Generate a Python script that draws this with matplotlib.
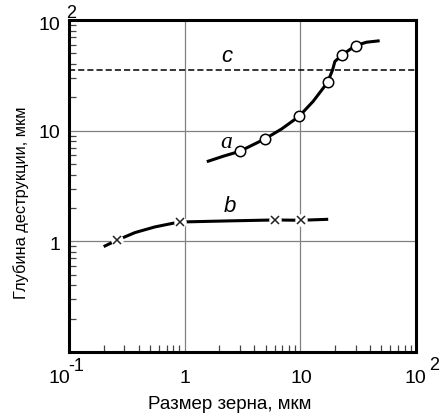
import numpy as np
import matplotlib.pyplot as plt
from matplotlib.ticker import LogLocator, NullFormatter, NullLocator

plt.rcParams['font.family'] = ['Liberation Sans', 'DejaVu Sans']

# curve a: measured points and traced line
a_x = [3.01, 4.94, 9.78, 17.2, 23.0, 30.1]
a_y = [6.52, 8.42, 13.5, 27.3, 48.4, 58.8]
a_line_x = [1.60, 2.16, 3.01, 3.92, 4.94, 6.89, 9.78, 12.9, 17.2, 19.0, 19.9, 23.0, 30.1, 37.4, 47.1]
a_line_y = [5.30, 5.88, 6.52, 7.48, 8.42, 10.36, 13.5, 18.4, 27.3, 35.4, 42.2, 48.4, 58.8, 63.0, 64.7]

# curve b
b_x = [0.258, 0.91, 6.03, 10.1]
b_y = [1.02, 1.50, 1.56, 1.55]
b_line_x = [0.205, 0.258, 0.372, 0.553, 0.91, 1.04, 2.38, 6.03, 10.1, 16.9]
b_line_y = [0.909, 1.02, 1.20, 1.35, 1.50, 1.50, 1.53, 1.56, 1.55, 1.58]

# level c
c_level = 35.4

fig = plt.figure(figsize=(4.44, 4.15), dpi=100)
ax = fig.add_axes([0.1554, 0.1518, 0.7815, 0.80])
ax.set_xscale('log')
ax.set_yscale('log')
ax.set_xlim(0.1, 100)
ax.set_ylim(0.1, 100)

for v in [1, 10]:
    ax.axvline(v, color='#808080', lw=0.9, zorder=1)
    ax.axhline(v, color='#808080', lw=0.9, zorder=1)

ax.axhline(c_level, color='black', lw=1.1, ls=(0, (4, 2)), zorder=2)

ax.plot(a_line_x, a_line_y, color='black', lw=2.2, solid_joinstyle='round', zorder=3)
ax.plot(a_x, a_y, ls='none', marker='o', ms=7.5, mfc='white', mec='black', mew=1.1, zorder=4)

ax.plot(b_line_x, b_line_y, color='black', lw=2.2, solid_joinstyle='round', zorder=3)
ax.plot(b_x, b_y, ls='none', marker='o', ms=9, mfc='white', mec='none', zorder=4)
ax.plot(b_x, b_y, ls='none', marker='x', ms=5.5, mec='#222222', mew=1.1, zorder=5)

ax.text(2.31, 7.75, 'a', family='Liberation Serif', style='italic', fontsize=17, ha='center', va='center')
ax.text(2.46, 2.08, 'b', style='italic', fontsize=16, ha='center', va='center')
ax.text(2.31, 46.8, 'c', style='italic', fontsize=16, ha='center', va='center')

for s in ['left', 'bottom', 'right', 'top']:
    ax.spines[s].set_linewidth(2.2)

ax.xaxis.set_major_locator(NullLocator())
ax.yaxis.set_major_locator(NullLocator())
ax.xaxis.set_minor_locator(LogLocator(base=10, subs=np.arange(2, 10)))
ax.yaxis.set_minor_locator(LogLocator(base=10, subs=np.arange(2, 10)))
ax.xaxis.set_minor_formatter(NullFormatter())
ax.yaxis.set_minor_formatter(NullFormatter())
ax.tick_params(which='minor', direction='in', length=5, width=0.9, color='#444444')

fs = 14
# tick labels placed in pixel offsets from the axes corners
def label(x, y, s, size=fs, **kw):
    fig.text(x / 444, 1 - y / 415, s, fontsize=size, va='center', **kw)

label(59, 378, '10', ha='center')
label(76, 366, '-1', size=fs - 1, ha='center')
label(185, 378, '1', ha='center')
label(301, 378, '10', ha='center')
label(415, 378, '10', ha='center')
label(434, 365, '2', size=fs - 1, ha='center')

label(60, 245, '1', ha='right')
label(60, 133, '10', ha='right')
label(60, 25, '10', ha='right')
label(71, 14, '2', size=fs - 1, ha='center')

fig.text(230 / 444, 1 - 404 / 415, 'Размер зерна, мкм', fontsize=13.5, ha='center', va='center')
fig.text(21 / 444, 1 - 203 / 415, 'Глубина деструкции, мкм', fontsize=11.8, rotation=90,
         ha='center', va='center')

fig.savefig('out.png', dpi=100)
